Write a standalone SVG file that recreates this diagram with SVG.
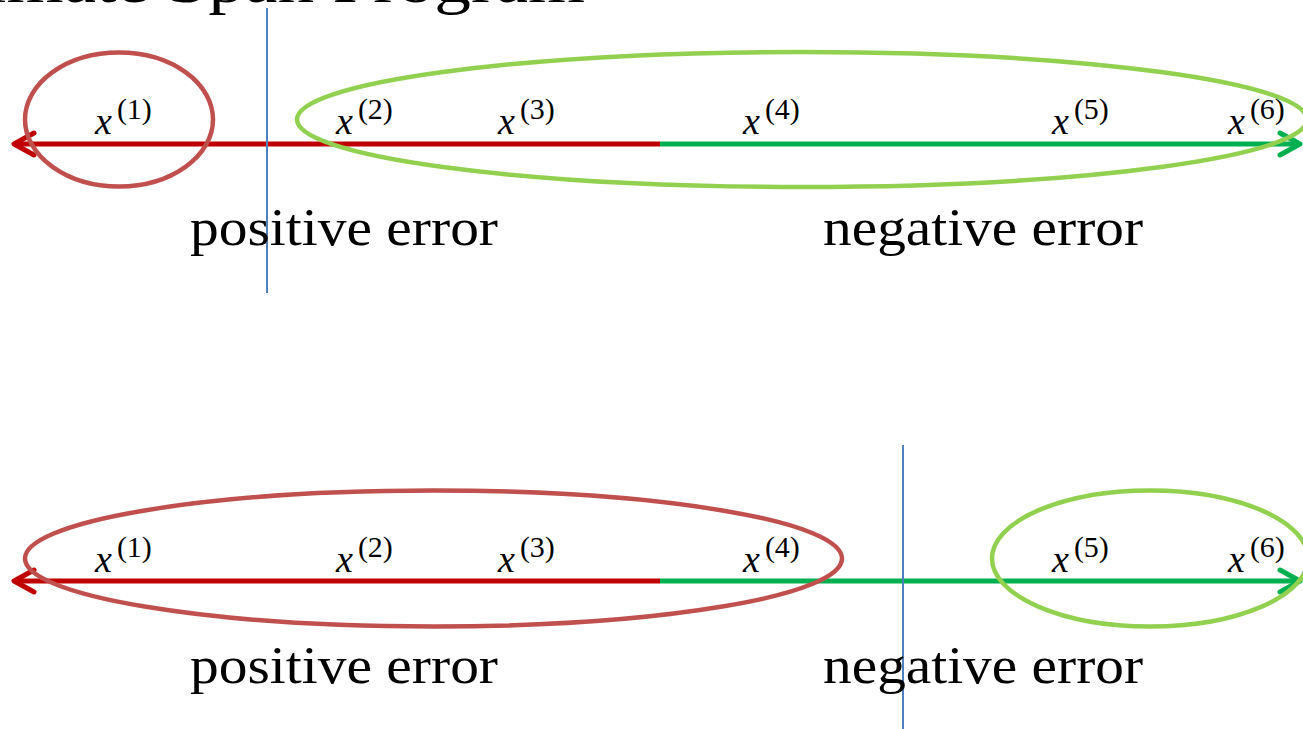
<svg xmlns="http://www.w3.org/2000/svg" width="1303" height="729" viewBox="0 0 1303 729">
<style>
.t{font-family:"Liberation Serif","DejaVu Serif",serif;fill:#000}
.big{font-size:52px}
.lab{font-size:38px;font-style:italic}
.sup{font-size:30px;font-style:normal}
.ln{fill:none;stroke-width:5}
.red{stroke:#C00000}
.grn{stroke:#00B050}
.ar{fill:none;stroke-width:5;stroke-linecap:round;stroke-linejoin:round}
.er{fill:none;stroke:#C0504D;stroke-width:4.5}
.eg{fill:none;stroke:#92D050;stroke-width:4.5}
.bl{stroke:#4F81BD;stroke-width:2}
</style>
<text class="t" x="-238" y="2" font-size="62" textLength="823" lengthAdjust="spacingAndGlyphs">Approximate Span Program</text>
<g id="connectors">
<line class="ln red" x1="16" y1="144" x2="660" y2="144"/>
<line class="ln grn" x1="660" y1="144" x2="1299" y2="144"/>
<polyline class="ar red" points="34,133 14,144 34,155"/>
<polyline class="ar grn" points="1280,133 1300,144 1280,155"/>
<line class="ln red" x1="16" y1="581" x2="660" y2="581"/>
<line class="ln grn" x1="660" y1="581" x2="1299" y2="581"/>
<polyline class="ar red" points="34,570 14,581 34,592"/>
<polyline class="ar grn" points="1280,570 1300,581 1280,592"/>
<line class="bl" x1="267" y1="8" x2="267" y2="293"/>
<line class="bl" x1="903" y1="445" x2="903" y2="729"/>
</g>
<g id="top-red-group"><ellipse class="er" cx="119" cy="119.5" rx="94" ry="67"/></g>
<g id="top-green-group"><ellipse class="eg" cx="802" cy="119.5" rx="505" ry="67.5"/></g>
<g id="bottom-red-group"><ellipse class="er" cx="433.5" cy="558.5" rx="408.5" ry="68"/></g>
<g id="bottom-green-group"><ellipse class="eg" cx="1150" cy="558.5" rx="158" ry="68"/></g>
<g id="top-labels">
<text class="t lab" x="95" y="134">x<tspan class="sup" dx="5" dy="-15">(1)</tspan></text>
<text class="t lab" x="336" y="134">x<tspan class="sup" dx="5" dy="-15">(2)</tspan></text>
<text class="t lab" x="498" y="134">x<tspan class="sup" dx="5" dy="-15">(3)</tspan></text>
<text class="t lab" x="743" y="134">x<tspan class="sup" dx="5" dy="-15">(4)</tspan></text>
<text class="t lab" x="1052" y="134">x<tspan class="sup" dx="5" dy="-15">(5)</tspan></text>
<text class="t lab" x="1228" y="134">x<tspan class="sup" dx="5" dy="-15">(6)</tspan></text>
<text class="t big" x="190" y="245" textLength="308" lengthAdjust="spacingAndGlyphs">positive error</text>
<text class="t big" x="823" y="245" textLength="320" lengthAdjust="spacingAndGlyphs">negative error</text>
</g>
<g id="bottom-labels">
<text class="t lab" x="95" y="572">x<tspan class="sup" dx="5" dy="-15">(1)</tspan></text>
<text class="t lab" x="336" y="572">x<tspan class="sup" dx="5" dy="-15">(2)</tspan></text>
<text class="t lab" x="498" y="572">x<tspan class="sup" dx="5" dy="-15">(3)</tspan></text>
<text class="t lab" x="743" y="572">x<tspan class="sup" dx="5" dy="-15">(4)</tspan></text>
<text class="t lab" x="1052" y="572">x<tspan class="sup" dx="5" dy="-15">(5)</tspan></text>
<text class="t lab" x="1228" y="572">x<tspan class="sup" dx="5" dy="-15">(6)</tspan></text>
<text class="t big" x="190" y="683" textLength="308" lengthAdjust="spacingAndGlyphs">positive error</text>
<text class="t big" x="823" y="683" textLength="320" lengthAdjust="spacingAndGlyphs">negative error</text>
</g>
</svg>
